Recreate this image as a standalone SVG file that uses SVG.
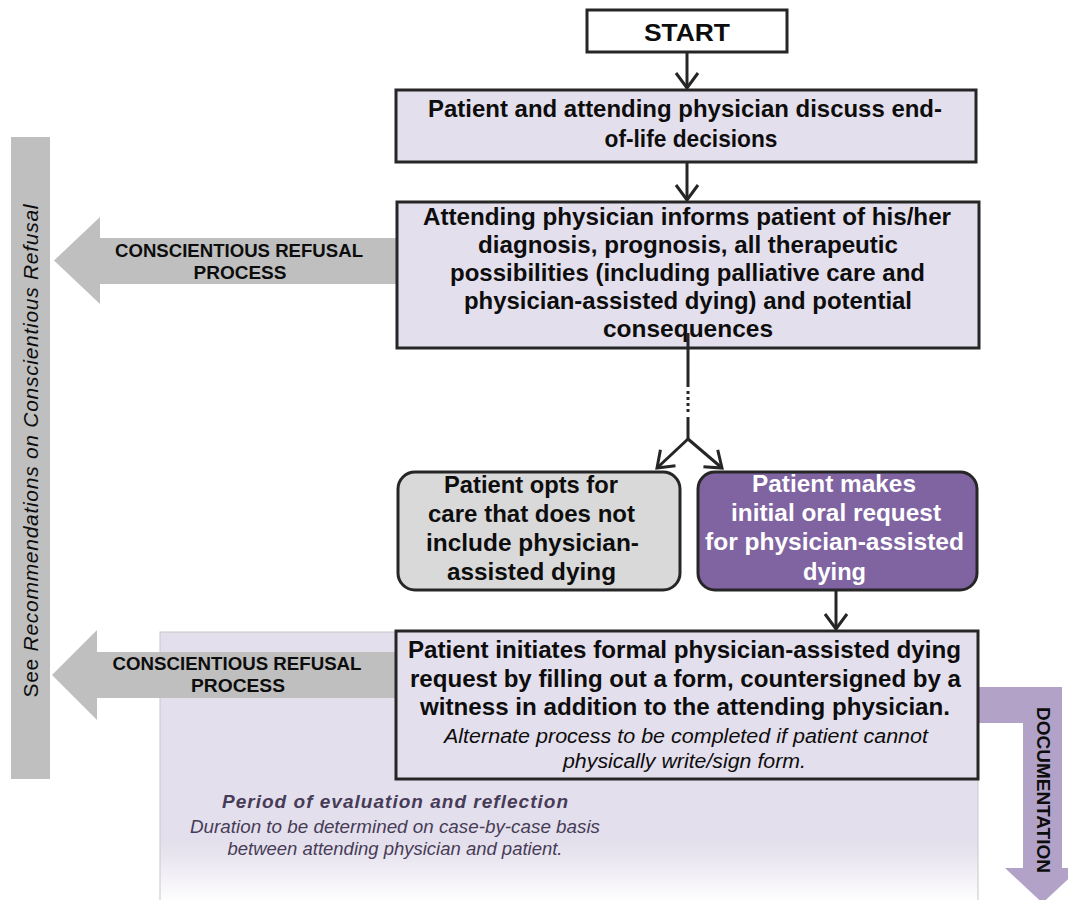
<svg xmlns="http://www.w3.org/2000/svg" width="1068" height="900" viewBox="0 0 1068 900">
<style>
.box{fill:#e4dfec;stroke:#262626;stroke-width:3}
.t{font-family:"Liberation Sans",Arial,sans-serif;font-weight:bold;font-size:24px;fill:#0d0d0d;text-anchor:middle}
.w{fill:#ffffff}
.it{font-family:"Liberation Sans",Arial,sans-serif;font-style:italic;font-size:20px;fill:#0d0d0d;text-anchor:middle}
.cr{font-family:"Liberation Sans",Arial,sans-serif;font-weight:bold;font-size:18px;fill:#0d0d0d;text-anchor:middle}
.grey{fill:#bfbfbf}
.pp{font-family:"Liberation Sans",Arial,sans-serif;font-style:italic;fill:#463c57;text-anchor:middle}
.conn{stroke:#262626;stroke-width:3;fill:none}
</style>
<defs>
<marker id="v" viewBox="-18 -13 22 26" refX="0" refY="0" markerWidth="22" markerHeight="26" markerUnits="userSpaceOnUse" orient="auto" overflow="visible">
<path d="M-15,-11 L0,0 L-15,11" fill="none" stroke="#262626" stroke-width="3"/>
</marker>
<linearGradient id="pg" x1="0" y1="0" x2="0" y2="1">
<stop offset="0" stop-color="#e4dfec"/>
<stop offset="0.78" stop-color="#e4dfec"/>
<stop offset="1" stop-color="#ffffff"/>
</linearGradient>
</defs>
<rect width="1068" height="900" fill="#ffffff"/>

<g id="panel">
<rect x="160" y="632" width="818" height="272" fill="url(#pg)" stroke="#c8c8c8" stroke-width="1"/>
<text class="pp" x="395" y="808" font-size="19" font-weight="bold" textLength="346" lengthAdjust="spacing">Period  of evaluation  and  reflection</text>
<text class="pp" x="395" y="833" font-size="18" textLength="410" lengthAdjust="spacingAndGlyphs">Duration to be determined on case-by-case basis</text>
<text class="pp" x="395" y="855" font-size="18" textLength="335" lengthAdjust="spacingAndGlyphs">between  attending physician and patient.</text>
</g>

<g id="see-recommendations">
<rect class="grey" x="11" y="137" width="39" height="642"/>
<text transform="translate(38,451) rotate(-90)" x="0" y="0" font-family="Liberation Sans,Arial,sans-serif" font-size="21" fill="#0d0d0d" text-anchor="middle" textLength="493" lengthAdjust="spacing">See  <tspan font-style="italic">Recommendations  on  Conscientious  Refusal</tspan></text>
</g>

<g id="refusal-1">
<polygon class="grey" points="397,238 100,238 100,217 54,260.5 100,304 100,284 397,284"/>
<text class="cr" x="239" y="257" textLength="248" lengthAdjust="spacingAndGlyphs">CONSCIENTIOUS REFUSAL</text>
<text class="cr" x="240" y="279" textLength="93" lengthAdjust="spacingAndGlyphs">PROCESS</text>
</g>

<g id="refusal-2">
<polygon class="grey" points="397,652 97,652 97,630 52,675 97,720 97,698 397,698"/>
<text class="cr" x="237" y="670" textLength="249" lengthAdjust="spacingAndGlyphs">CONSCIENTIOUS REFUSAL</text>
<text class="cr" x="238" y="692" textLength="94" lengthAdjust="spacingAndGlyphs">PROCESS</text>
</g>

<g id="documentation">
<polygon fill="#b3a2c7" points="978,687 1062,687 1062,868 1080,868 1042.5,903 1005,868 1023,868 1023,723 978,723"/>
<text transform="translate(1037,790) rotate(90)" x="0" y="0" class="cr" font-size="17" textLength="166" lengthAdjust="spacingAndGlyphs">DOCUMENTATION</text>
</g>

<g id="start">
<rect x="587" y="10" width="200" height="42" fill="#ffffff" stroke="#262626" stroke-width="3"/>
<text class="t" x="687" y="41" textLength="86" lengthAdjust="spacingAndGlyphs">START</text>
</g>

<g id="discuss">
<rect class="box" x="396" y="90" width="580" height="72"/>
<text class="t" x="685" y="117" textLength="514" lengthAdjust="spacingAndGlyphs">Patient and attending physician discuss end-</text>
<text class="t" x="691" y="147" textLength="173" lengthAdjust="spacingAndGlyphs">of-life decisions</text>
</g>

<g id="inform">
<rect class="box" x="397" y="202" width="582" height="146"/>
<text class="t" x="687" y="225" textLength="528" lengthAdjust="spacingAndGlyphs">Attending physician informs patient of his/her</text>
<text class="t" x="688" y="253" textLength="420" lengthAdjust="spacingAndGlyphs">diagnosis, prognosis, all therapeutic</text>
<text class="t" x="687.5" y="281" textLength="475" lengthAdjust="spacingAndGlyphs">possibilities (including palliative care and</text>
<text class="t" x="688" y="309" textLength="448" lengthAdjust="spacingAndGlyphs">physician-assisted dying) and potential</text>
<text class="t" x="688" y="337" textLength="170" lengthAdjust="spacingAndGlyphs">consequences</text>
</g>

<g id="opt-out">
<rect x="398" y="472" width="282" height="118" rx="17" fill="#d9d9d9" stroke="#262626" stroke-width="3"/>
<text class="t" x="531" y="493" textLength="174" lengthAdjust="spacingAndGlyphs">Patient opts for</text>
<text class="t" x="531.5" y="522" textLength="207" lengthAdjust="spacingAndGlyphs">care that does not</text>
<text class="t" x="532.5" y="551" textLength="213" lengthAdjust="spacingAndGlyphs">include physician-</text>
<text class="t" x="531.5" y="580" textLength="169" lengthAdjust="spacingAndGlyphs">assisted dying</text>
</g>

<g id="oral-request">
<rect x="698" y="472" width="279" height="118" rx="17" fill="#8064a2" stroke="#262626" stroke-width="3"/>
<text class="t w" x="834" y="492" textLength="164" lengthAdjust="spacingAndGlyphs">Patient makes</text>
<text class="t w" x="836" y="521" textLength="210" lengthAdjust="spacingAndGlyphs">initial oral request</text>
<text class="t w" x="834.5" y="550" textLength="259" lengthAdjust="spacingAndGlyphs">for physician-assisted</text>
<text class="t w" x="834.5" y="580" textLength="63" lengthAdjust="spacingAndGlyphs">dying</text>
</g>

<g id="formal-request">
<rect class="box" x="396" y="631" width="582" height="148"/>
<text class="t" x="684.5" y="658" textLength="553" lengthAdjust="spacingAndGlyphs">Patient initiates formal physician-assisted dying</text>
<text class="t" x="685.5" y="687" textLength="551" lengthAdjust="spacingAndGlyphs">request by filling out a form, countersigned by a</text>
<text class="t" x="685" y="715" textLength="530" lengthAdjust="spacingAndGlyphs">witness in addition to the attending physician.</text>
<text class="it" x="686" y="743" textLength="484" lengthAdjust="spacingAndGlyphs">Alternate process to be completed if patient  cannot</text>
<text class="it" x="684.5" y="768" textLength="243" lengthAdjust="spacingAndGlyphs">physically write/sign form.</text>
</g>

<g id="connectors">
<line class="conn" x1="687" y1="52" x2="687" y2="88" marker-end="url(#v)"/>
<line class="conn" x1="687" y1="162" x2="687" y2="200" marker-end="url(#v)"/>
<line class="conn" x1="688" y1="333" x2="688" y2="387"/>
<line class="conn" x1="688" y1="391" x2="688" y2="414" stroke-dasharray="3 3"/>
<line class="conn" x1="688" y1="417" x2="688" y2="439"/>
<line class="conn" x1="688" y1="439" x2="657" y2="468" marker-end="url(#v)"/>
<line class="conn" x1="688" y1="439" x2="722" y2="468" marker-end="url(#v)"/>
<line class="conn" x1="836" y1="590" x2="836" y2="629" marker-end="url(#v)"/>
</g>
</svg>
